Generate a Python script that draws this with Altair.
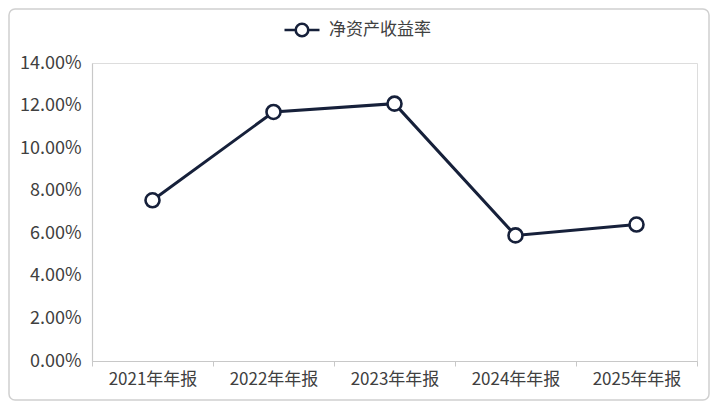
import altair as alt
import pandas as pd

categories = ["2021年年报", "2022年年报", "2023年年报", "2024年年报", "2025年年报"]
roe = [0.0755, 0.1170, 0.1209, 0.0590, 0.0641]
series_name = "净资产收益率"
y_ticks = [0, 0.02, 0.04, 0.06, 0.08, 0.10, 0.12, 0.14]

df = pd.DataFrame({"period": categories, "value": roe, "series": [series_name] * len(categories)})

NAVY = "#16203a"
GRAY = "#c8c8c8"
TXT = "#404040"
FONT = "Noto Sans CJK SC"
W, H = 605, 298
PAD = {"left": 84, "top": 55, "right": 13, "bottom": 40}

x = alt.X(
    "period:N", sort=categories, title=None,
    scale=alt.Scale(type="band", paddingInner=0, paddingOuter=0),
    axis=alt.Axis(labelAngle=0, tickBand="extent", domainColor=GRAY, tickColor=GRAY,
                  tickSize=5, labelPadding=5, labelFontSize=17, labelColor=TXT,
                  labelFont=FONT, domainWidth=1.2),
)
y = alt.Y(
    "value:Q", title=None,
    scale=alt.Scale(domain=[0, 0.14], nice=False),
    axis=alt.Axis(values=y_ticks, format=".2%", grid=False, ticks=False, domainColor=GRAY,
                  labelPadding=11, labelFontSize=18, labelColor=TXT, labelFont=FONT,
                  domainWidth=1.2),
)

legend_path = ("M-1,0L-0.36,0M0.36,0L1,0"
               "M0.36,0A0.36,0.36 0 1 1 -0.36,0A0.36,0.36 0 1 1 0.36,0Z")

color = alt.Color(
    "series:N", scale=alt.Scale(range=[NAVY]),
    legend=alt.Legend(title=None, orient="none", legendX=191, legendY=-52,
                      symbolType=legend_path, symbolSize=1225, symbolStrokeWidth=2.6,
                      symbolFillColor="white", labelFontSize=17, labelColor=TXT,
                      labelFont=FONT, labelOffset=8),
)

line = alt.Chart(df).mark_line(strokeWidth=3).encode(x=x, y=y, color=color)
pts = alt.Chart(df).mark_point(
    filled=True, fill="white", stroke=NAVY, strokeWidth=2.6, size=196, shape="circle", opacity=1
).encode(x=x, y=y)

frame = alt.Chart(pd.DataFrame({"k": [0]})).mark_rect(
    fillOpacity=0, stroke="#d0d0d0", strokeWidth=1.5, cornerRadius=6, clip=False
).encode(
    x=alt.value(-PAD["left"] + 1), x2=alt.value(W + PAD["right"] - 1),
    y=alt.value(-PAD["top"] + 1), y2=alt.value(H + PAD["bottom"] - 1),
)

chart = alt.layer(frame, line, pts).properties(
    width=W, height=H, padding=PAD,
    autosize=alt.AutoSizeParams(type="none"),
).configure_view(stroke=None).configure(background="white")

chart.save("out.html", embed_options={"renderer": "svg", "actions": False})
